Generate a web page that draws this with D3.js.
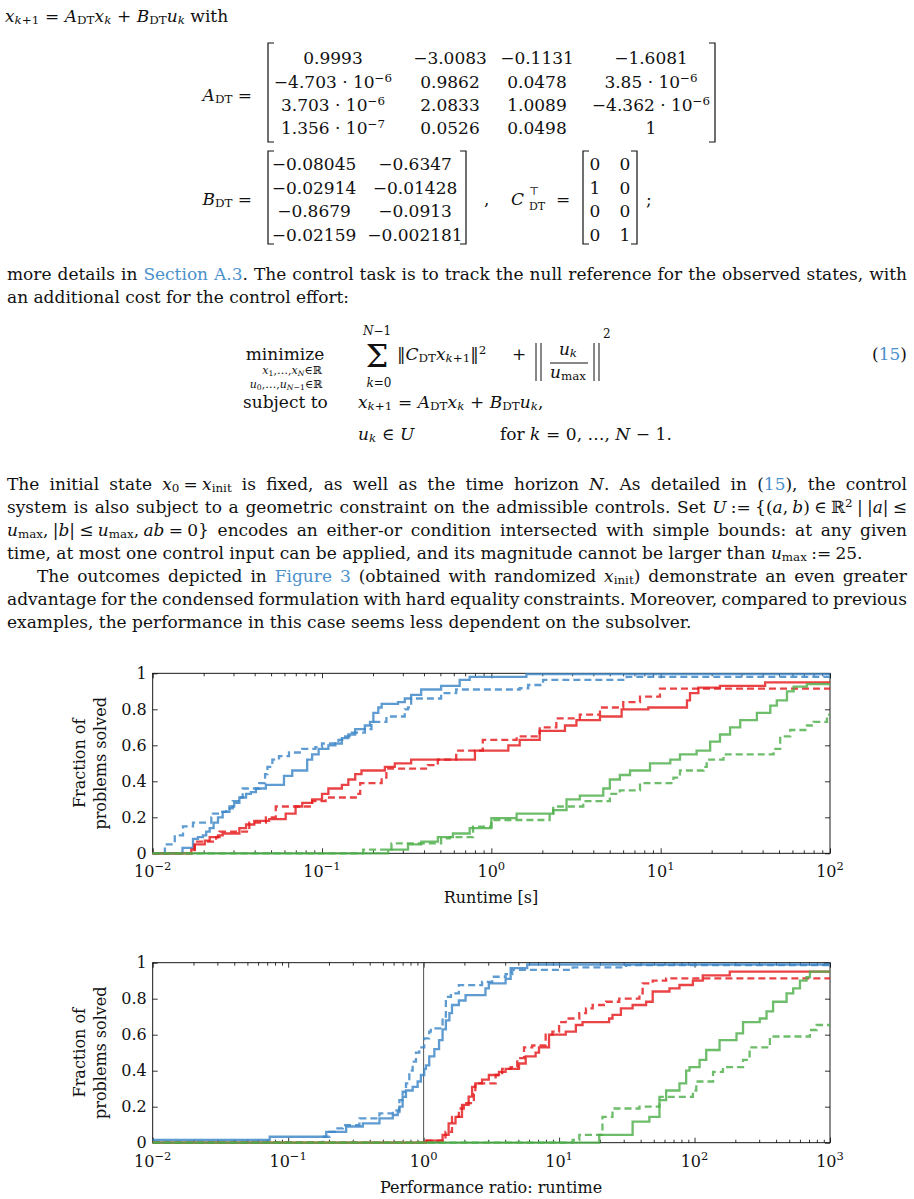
<!DOCTYPE html>
<html>
<head>
<meta charset="utf-8">
<title>Figure 3</title>
<script src="https://cdn.jsdelivr.net/npm/d3@7/dist/d3.min.js"></script>
<style>
  body { margin: 0; background: #fff; }
  #page { position: relative; width: 914px; height: 1199px; overflow: hidden;
          font-family: 'DejaVu Serif', 'Liberation Serif', serif; color: #111; }
  #page svg { position: absolute; left: 0; top: 0; }
  .t { position: absolute; white-space: nowrap; line-height: 1; font-size: 17px; }
  sub { font-size: 0.7em; vertical-align: -0.2em; line-height: 0; }
  sup { font-size: 0.7em; vertical-align: 0.5em; line-height: 0; }
  .lnk { color: #4b91cc; }
</style>
</head>
<body>
<div id="page"></div>
<script>
// top chart: runtime [s] -> fraction of problems solved
const runtimeBlueSolid = [[0.0150,0.03],[0.0173,0.08],[0.0185,0.09],[0.0198,0.10],[0.0207,0.12],[0.0217,0.14],[0.0229,0.17],[0.0243,0.20],[0.0259,0.23],[0.0284,0.26],[0.0303,0.28],[0.0325,0.31],[0.0356,0.33],[0.0380,0.34],[0.0407,0.36],[0.0466,0.38],[0.0596,0.43],[0.0667,0.46],[0.0817,0.52],[0.0874,0.55],[0.0955,0.58],[0.109,0.60],[0.120,0.61],[0.131,0.64],[0.143,0.66],[0.157,0.69],[0.179,0.71],[0.192,0.73],[0.201,0.78],[0.215,0.81],[0.225,0.83],[0.281,0.84],[0.308,0.86],[0.336,0.88],[0.385,0.91],[0.505,0.93],[0.65,0.963],[0.745,0.98],[1.61,0.995]];
const runtimeBlueDashed = [[0.0118,0.05],[0.0135,0.10],[0.0151,0.15],[0.0173,0.17],[0.0222,0.20],[0.0227,0.22],[0.0248,0.23],[0.0272,0.25],[0.0297,0.29],[0.0332,0.31],[0.0340,0.36],[0.0426,0.39],[0.0461,0.44],[0.0476,0.48],[0.0509,0.52],[0.0557,0.54],[0.0638,0.56],[0.0764,0.58],[0.0914,0.59],[0.100,0.61],[0.125,0.63],[0.137,0.65],[0.150,0.67],[0.179,0.69],[0.196,0.73],[0.240,0.76],[0.308,0.80],[0.322,0.81],[0.336,0.86],[0.505,0.89],[0.62,0.91],[1.47,0.917],[1.65,0.935],[2.02,0.963],[6.3,0.98]];
const runtimeRedSolid = [[0.0169,0.02],[0.0177,0.05],[0.0203,0.07],[0.0217,0.09],[0.0243,0.10],[0.0259,0.11],[0.0325,0.14],[0.0356,0.16],[0.0398,0.18],[0.0487,0.19],[0.061,0.22],[0.0698,0.26],[0.0764,0.28],[0.0874,0.30],[0.100,0.33],[0.109,0.36],[0.131,0.38],[0.143,0.41],[0.157,0.44],[0.171,0.46],[0.235,0.48],[0.269,0.50],[0.336,0.52],[0.80,0.57],[1.26,0.60],[1.47,0.63],[1.93,0.68],[2.72,0.71],[3.18,0.74],[4.38,0.76],[5.88,0.80],[8.45,0.81],[14.3,0.85],[14.9,0.89],[16.7,0.92],[22.4,0.93],[41.4,0.95]];
const runtimeRedDashed = [[0.0177,0.065],[0.0237,0.09],[0.0248,0.12],[0.0372,0.17],[0.0466,0.20],[0.0533,0.26],[0.0874,0.29],[0.105,0.31],[0.164,0.33],[0.168,0.39],[0.225,0.42],[0.240,0.47],[0.422,0.49],[0.483,0.52],[0.62,0.57],[0.89,0.63],[1.41,0.65],[1.93,0.70],[2.42,0.75],[3.33,0.77],[4.38,0.81],[6.01,0.84],[7.55,0.87],[9.9,0.915]];
const runtimeGreenSolid = [[0.246,0.02],[0.322,0.05],[0.386,0.065],[0.483,0.09],[0.593,0.11],[0.745,0.14],[1.0,0.195],[1.41,0.22],[2.32,0.24],[2.78,0.30],[3.33,0.32],[4.58,0.36],[5.01,0.41],[5.74,0.435],[6.59,0.46],[8.65,0.50],[11.4,0.52],[13.0,0.55],[16.3,0.57],[19.6,0.62],[22.4,0.66],[25.7,0.70],[29.5,0.74],[37.0,0.78],[44.4,0.82],[48.5,0.85],[55.7,0.90],[61.0,0.926],[73,0.94]];
const runtimeGreenDashed = [[0.175,0.02],[0.257,0.055],[0.505,0.083],[0.567,0.09],[0.78,0.148],[1.0,0.185],[2.21,0.22],[2.32,0.26],[3.49,0.29],[5.01,0.33],[5.74,0.35],[7.55,0.39],[11.9,0.42],[13.0,0.46],[17.9,0.48],[18.7,0.52],[23.5,0.55],[46.4,0.58],[50.8,0.65],[58.2,0.685],[73.1,0.71],[80,0.73],[96,0.77]];

// bottom chart: performance ratio -> fraction of problems solved
const ratioBlueSolid = [[0.0731,0.033],[0.191,0.06],[0.268,0.09],[0.356,0.107],[0.472,0.135],[0.592,0.154],[0.644,0.17],[0.662,0.20],[0.70,0.255],[0.741,0.29],[0.83,0.31],[0.903,0.34],[0.955,0.376],[1.01,0.41],[1.04,0.43],[1.10,0.48],[1.20,0.52],[1.30,0.57],[1.38,0.63],[1.46,0.68],[1.55,0.72],[1.62,0.765],[1.82,0.79],[2.04,0.82],[2.86,0.857],[3.03,0.885],[4.03,0.91],[4.39,0.97],[5.82,0.99]];
const ratioBlueDashed = [[0.180,0.033],[0.202,0.06],[0.226,0.08],[0.254,0.098],[0.336,0.135],[0.472,0.163],[0.592,0.18],[0.662,0.237],[0.70,0.283],[0.741,0.33],[0.784,0.40],[0.83,0.45],[0.878,0.50],[0.929,0.53],[1.01,0.58],[1.10,0.617],[1.13,0.635],[1.38,0.70],[1.46,0.81],[1.59,0.83],[1.82,0.875],[2.70,0.894],[3.21,0.922],[4.03,0.937],[4.51,0.96],[12.6,0.974],[31.2,0.987]];
const ratioRedSolid = [[1.04,0.011],[1.38,0.043],[1.53,0.107],[1.72,0.144],[1.92,0.21],[2.15,0.256],[2.28,0.31],[2.41,0.33],[2.70,0.35],[3.03,0.376],[3.60,0.394],[4.03,0.41],[5.06,0.44],[5.67,0.48],[6.71,0.50],[7.11,0.53],[8.43,0.60],[11.2,0.617],[13.3,0.654],[14.9,0.67],[23.4,0.69],[24.8,0.71],[28.6,0.746],[34.9,0.765],[43.9,0.783],[49.1,0.84],[65.3,0.857],[77.4,0.876],[97.2,0.90],[115,0.93],[182,0.95]];
const ratioRedDashed = [[1.01,0.011],[1.45,0.06],[1.62,0.144],[1.82,0.19],[1.98,0.22],[2.35,0.27],[2.41,0.33],[3.40,0.376],[3.80,0.41],[4.39,0.42],[4.91,0.47],[5.51,0.53],[6.34,0.54],[7.96,0.60],[8.93,0.617],[10.0,0.67],[11.2,0.69],[14.1,0.72],[15.8,0.746],[17.7,0.765],[22.2,0.783],[27.8,0.80],[39.2,0.83],[41.4,0.885],[49.1,0.90],[61.7,0.913]];
const ratioGreenSolid = [[19.8,0.043],[34.9,0.117],[46.4,0.144],[55.1,0.237],[61.7,0.29],[77.4,0.33],[86.7,0.40],[91.8,0.42],[109,0.46],[122,0.515],[153,0.57],[204,0.607],[228,0.67],[303,0.69],[340,0.73],[380,0.783],[478,0.83],[535,0.857],[600,0.90],[671,0.92],[711,0.95]];
const ratioGreenDashed = [[12.6,0.015],[14.1,0.043],[20.9,0.144],[24.8,0.19],[39.2,0.20],[55.1,0.255],[97.2,0.29],[103,0.34],[137,0.394],[162,0.42],[228,0.46],[255,0.53],[360,0.59],[711,0.626],[796,0.654]];

const runtimeTicks = [0.01, 0.1, 1, 10, 100];
const ratioTicks = [0.01, 0.1, 1, 10, 100, 1000];
const fractionTicks = [0, 0.2, 0.4, 0.6, 0.8, 1];

const FONT = "'DejaVu Serif', 'Liberation Serif', serif";
const BLUE = '#3a85c6', RED = '#e41a1c', GREEN = '#4daf4a';
const S = '\u2005'; // math spacing, not stretched by justification
const R = '\u2004'; // a bit wider, around relations
const FS = 17;      // body text size

const page = d3.select('#page');
const svg = page.append('svg').attr('width', 914).attr('height', 1199);

// positioned text, baseline-aligned (lh = line-height in em)
function put(html, x, base, anchor = 'start', size = FS, lh = 1) {
  const tx = anchor === 'middle' ? '-50%' : anchor === 'end' ? '-100%' : '0';
  return page.append('div').attr('class', 't')
    .style('left', x + 'px')
    .style('top', (base - (lh / 2 + 0.346) * size) + 'px')
    .style('font-size', size + 'px')
    .style('line-height', lh)
    .style('transform', `translateX(${tx})`)
    .html(html);
}

// justified paragraph line: stretch word spaces to fill the width
function jline(html, x, base, w) {
  const d = put(html, x, base);
  const nat = d.node().getBoundingClientRect().width;
  const n = (d.node().textContent.match(/ /g) || []).length;
  if (n) d.style('word-spacing', ((w - nat) / n) + 'px');
}

function bracket(x, y0, y1, dir) {
  svg.append('path')
    .attr('d', `M${x + dir * 6},${y0}H${x}V${y1}H${x + dir * 6}`)
    .attr('fill', 'none').attr('stroke', '#111').attr('stroke-width', 1.2);
}

// ---- top text ----
put(`<i>x</i><sub><i>k</i>+1</sub>${R}=${R}<i>A</i><sub>DT</sub><i>x</i><sub><i>k</i></sub>${R}+${R}<i>B</i><sub>DT</sub><i>u</i><sub><i>k</i></sub> with`, 5, 22);

// A_DT
const aCols = [333, 450, 537, 651];
const aRows = [64, 88, 111, 134];
const aCells = [
  ['0.9993', '−3.0083', '−0.1131', '−1.6081'],
  ['−4.703 · 10<sup>−6</sup>', '0.9862', '0.0478', '3.85 · 10<sup>−6</sup>'],
  ['3.703 · 10<sup>−6</sup>', '2.0833', '1.0089', '−4.362 · 10<sup>−6</sup>'],
  ['1.356 · 10<sup>−7</sup>', '0.0526', '0.0498', '1']
];
put(`<i>A</i><sub>DT</sub> =`, 252, 101, 'end');
aCells.forEach((row, r) => row.forEach((c, k) => put(c, aCols[k], aRows[r], 'middle')));
bracket(268, 43, 142, 1);
bracket(715, 43, 142, -1);

// B_DT and C_DT
const bCols = [314, 415];
const bRows = [170, 194, 217, 241];
const bCells = [['−0.08045', '−0.6347'], ['−0.02914', '−0.01428'], ['−0.8679', '−0.0913'], ['−0.02159', '−0.002181']];
put(`<i>B</i><sub>DT</sub> =`, 252, 205, 'end');
bCells.forEach((row, r) => row.forEach((c, k) => put(c, bCols[k], bRows[r], 'middle')));
bracket(268, 151, 244, 1);
bracket(466, 151, 244, -1);
put(',', 484, 205);

const cCols = [595, 625];
const cCells = [['0', '0'], ['1', '0'], ['0', '0'], ['0', '1']];
put('<i>C</i>', 511, 205);
put('⊤', 529, 196, 'start', 11, 0.8);
put('DT', 529, 211, 'start', 11, 0.8);
put('=', 556, 205);
cCells.forEach((row, r) => row.forEach((c, k) => put(c, cCols[k], bRows[r], 'middle')));
bracket(583, 151, 244, 1);
bracket(637, 151, 244, -1);
put(';', 646, 205);

// first paragraph
jline(`more details in <span class="lnk">Section A.3</span>. The control task is to track the null reference for the observed states, with`, 7, 280, 900);
put(`an additional cost for the control effort:`, 7, 303);

// optimisation problem (15)
put('minimize', 285, 360, 'middle');
put(`<i>x</i><sub>1</sub>,…,<i>x</i><sub><i>N</i></sub>∈ℝ`, 292, 374.5, 'middle', 11, 0.85);
put(`<i>u</i><sub>0</sub>,…,<i>u</i><sub><i>N</i>−1</sub>∈ℝ`, 286, 388, 'middle', 11, 0.85);
put(`<i>N</i>−1`, 377, 335, 'middle', 12, 0.85);
put('Σ', 377, 368, 'middle', 32, 0.72);
put(`<i>k</i>=0`, 379, 387, 'middle', 12, 0.85);
put(`‖<i>C</i><sub>DT</sub><i>x</i><sub><i>k</i>+1</sub>‖<sup>2</sup>`, 397, 360);
put('+', 519, 360, 'middle');
[536, 541, 594, 599].forEach(xx => svg.append('line')
  .attr('x1', xx).attr('x2', xx).attr('y1', 343).attr('y2', 381)
  .attr('stroke', '#111').attr('stroke-width', 1));
put(`<i>u</i><sub><i>k</i></sub>`, 568, 355, 'middle');
svg.append('line').attr('x1', 550).attr('x2', 588).attr('y1', 363).attr('y2', 363)
  .attr('stroke', '#111').attr('stroke-width', 1);
put(`<i>u</i><sub>max</sub>`, 568, 378, 'middle');
put('2', 603, 338, 'start', 12, 0.85);
put(`(<span class="lnk">15</span>)`, 907, 360, 'end');
put('subject to', 243, 408);
put(`<i>x</i><sub><i>k</i>+1</sub>${R}=${R}<i>A</i><sub>DT</sub><i>x</i><sub><i>k</i></sub>${R}+${R}<i>B</i><sub>DT</sub><i>u</i><sub><i>k</i></sub>,`, 358, 408);
put(`<i>u</i><sub><i>k</i></sub>${R}∈${R}<i>U</i>`, 358, 440);
put(`for <i>k</i>${R}=${R}0, …, <i>N</i>${R}−${R}1.`, 500, 440);

// second paragraph
jline(`The initial state <i>x</i><sub>0</sub>${S}=${S}<i>x</i><sub>init</sub> is fixed, as well as the time horizon <i>N</i>. As detailed in (<span class="lnk">15</span>), the control`, 7, 490, 900);
jline(`system is also subject to a geometric constraint on the admissible controls. Set <i>U</i>${S}:=${S}{(<i>a</i>,${S}<i>b</i>)${S}∈${S}ℝ<sup>2</sup>${S}|${S}|<i>a</i>|${S}≤`, 7, 513, 900);
jline(`<i>u</i><sub>max</sub>,${S}|<i>b</i>|${S}≤${S}<i>u</i><sub>max</sub>,${S}<i>ab</i>${S}=${S}0} encodes an either-or condition intersected with simple bounds: at any given`, 7, 536, 900);
put(`time, at most one control input can be applied, and its magnitude cannot be larger than <i>u</i><sub>max</sub>${S}:=${S}25.`, 7, 559);
jline(`The outcomes depicted in <span class="lnk">Figure 3</span> (obtained with randomized <i>x</i><sub>init</sub>) demonstrate an even greater`, 37, 582, 870);
jline(`advantage for the condensed formulation with hard equality constraints. Moreover, compared to previous`, 7, 605, 900);
put(`examples, the performance in this case seems less dependent on the subsolver.`, 7, 628);

// ---- charts ----
function drawChart(c) {
  const x = d3.scaleLog().domain(c.domain).range([c.left, c.right]);
  const y = d3.scaleLinear().domain([0, 1]).range([c.bottom, c.top]);
  const isMajor = v => Math.abs(Math.log10(v) - Math.round(Math.log10(v))) < 1e-6;
  const minors = x.ticks().filter(v => !isMajor(v));

  const style = g => {
    g.select('.domain').remove();
    g.selectAll('line').attr('stroke', '#000').attr('stroke-width', 0.8);
    g.attr('font-family', FONT).attr('font-size', 16);
    g.selectAll('text').attr('fill', '#111');
  };

  const g = svg.append('g');

  g.append('g').attr('transform', `translate(0,${c.bottom})`)
    .call(d3.axisBottom(x).tickValues(minors).tickSize(-3).tickFormat('')).call(style);
  g.append('g').attr('transform', `translate(0,${c.top})`)
    .call(d3.axisTop(x).tickValues(minors).tickSize(-3).tickFormat('')).call(style);
  g.append('g').attr('transform', `translate(0,${c.bottom})`)
    .call(d3.axisBottom(x).tickValues(c.majors).tickSize(-5).tickFormat('')).call(style);
  g.append('g').attr('transform', `translate(0,${c.top})`)
    .call(d3.axisTop(x).tickValues(c.majors).tickSize(-5).tickFormat('')).call(style);
  g.append('g').attr('transform', `translate(${c.left},0)`)
    .call(d3.axisLeft(y).tickValues(fractionTicks).tickSize(-5).tickPadding(6)
      .tickFormat(d => d === 0 ? '0' : d === 1 ? '1' : d3.format('.1f')(d))).call(style);
  g.append('g').attr('transform', `translate(${c.right},0)`)
    .call(d3.axisRight(y).tickValues(fractionTicks).tickSize(-5).tickFormat('')).call(style);

  // x tick labels as powers of ten
  const lab = g.append('g').attr('font-family', FONT).attr('fill', '#111');
  c.majors.forEach(v => {
    const t = lab.append('text').attr('x', x(v)).attr('y', c.bottom + 24)
      .attr('text-anchor', 'middle').attr('font-size', 16);
    t.append('tspan').text('10');
    t.append('tspan').attr('dy', -7).attr('font-size', 11.5)
      .text(String(Math.round(Math.log10(v))).replace('-', '−'));
  });

  g.append('rect').attr('x', c.left).attr('y', c.top)
    .attr('width', c.right - c.left).attr('height', c.bottom - c.top)
    .attr('fill', 'none').attr('stroke', '#000').attr('stroke-width', 0.9);

  if (c.vline) {
    g.append('line').attr('x1', x(c.vline)).attr('x2', x(c.vline))
      .attr('y1', c.top).attr('y2', c.bottom)
      .attr('stroke', '#555').attr('stroke-width', 1);
  }

  const line = d3.line().x(d => x(d[0])).y(d => y(d[1])).curve(d3.curveStepAfter);
  c.series.forEach(s => {
    const pts = [[c.domain[0], s.start || 0], ...s.data, [c.domain[1], s.data[s.data.length - 1][1]]];
    g.append('path').datum(pts).attr('d', line)
      .attr('fill', 'none').attr('stroke', s.color)
      .attr('stroke-width', 2.3).attr('stroke-opacity', 0.82)
      .attr('stroke-dasharray', s.dashed ? '7,4' : null);
  });

  // axis titles
  const cy = (c.top + c.bottom) / 2;
  g.append('text').attr('transform', `translate(85,${cy}) rotate(-90)`)
    .attr('text-anchor', 'middle').attr('font-family', FONT).attr('font-size', 16)
    .attr('fill', '#111').text('Fraction of');
  g.append('text').attr('transform', `translate(106,${cy}) rotate(-90)`)
    .attr('text-anchor', 'middle').attr('font-family', FONT).attr('font-size', 16)
    .attr('fill', '#111').text('problems solved');
  g.append('text').attr('x', 491).attr('y', c.bottom + 50)
    .attr('text-anchor', 'middle').attr('font-family', FONT).attr('font-size', 16)
    .attr('fill', '#111').text(c.xTitle);
}

drawChart({
  left: 152.7, right: 830, top: 673.3, bottom: 853.3,
  domain: [0.01, 100], majors: runtimeTicks, xTitle: 'Runtime [s]',
  series: [
    { data: runtimeBlueSolid, color: BLUE },
    { data: runtimeBlueDashed, color: BLUE, dashed: true },
    { data: runtimeRedSolid, color: RED },
    { data: runtimeRedDashed, color: RED, dashed: true },
    { data: runtimeGreenSolid, color: GREEN },
    { data: runtimeGreenDashed, color: GREEN, dashed: true }
  ]
});

drawChart({
  left: 152.7, right: 830, top: 962.7, bottom: 1142.7,
  domain: [0.01, 1000], majors: ratioTicks, xTitle: 'Performance ratio: runtime',
  vline: 1,
  series: [
    { data: ratioBlueSolid, color: BLUE, start: 0.015 },
    { data: ratioBlueDashed, color: BLUE, dashed: true },
    { data: ratioRedSolid, color: RED },
    { data: ratioRedDashed, color: RED, dashed: true },
    { data: ratioGreenSolid, color: GREEN },
    { data: ratioGreenDashed, color: GREEN, dashed: true }
  ]
});
</script>
</body>
</html>
